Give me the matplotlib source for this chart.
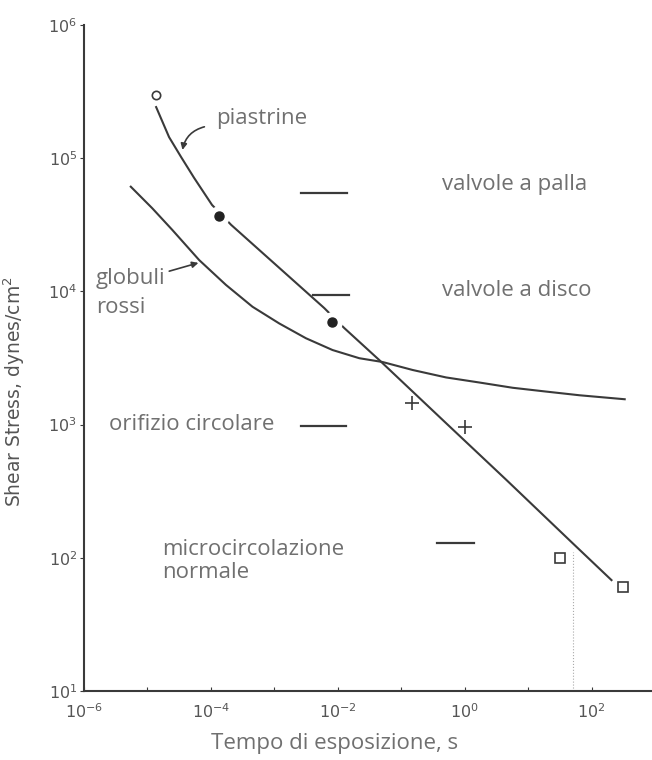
import numpy as np
import matplotlib.pyplot as plt

# Data
plt_x = [1.37e-5, 2.19e-5, 3.39e-5, 5.43e-5, 1.04e-4, 2.08e-4, 6.1e-3, 1.26e-2, 4.5e-2, 0.513, 4.53, 49.8, 205]
plt_y = [2.42e5, 1.44e5, 1.02e5, 7.12e4, 4.46e4, 3.16e4, 7.5e3, 5.31e3, 3.05e3, 1020, 384, 129, 68]

rbc_x = [5.46e-6, 1.19e-5, 2.47e-5, 6.52e-5, 1.72e-4, 4.52e-4, 1.19e-3, 3.14e-3, 8.24e-3,
         2.18e-2, 5.07e-2, 0.151, 0.507, 1.70, 5.69, 19.1, 64.6, 331]
rbc_y = [6.11e4, 4.21e4, 2.89e4, 1.72e4, 1.12e4, 7.67e3, 5.75e3, 4.45e3, 3.63e3,
         3.15e3, 2.95e3, 2.57e3, 2.26e3, 2.07e3, 1.89e3, 1.77e3, 1.66e3, 1.55e3]

open_circle = ([1.38e-5], [3.0e5])
dots = ([1.35e-4, 8.0e-3], [3.7e4, 5.9e3])
plus = ([0.148, 0.99], [1450, 960])
squares = ([32, 310], [100, 60])

# horizontal ranges: (x start, x end, y)
ranges = [(2.6e-3, 1.4e-2, 5.5e4),
          (4.0e-3, 1.5e-2, 9.4e3),
          (2.6e-3, 1.35e-2, 980),
          (0.37, 1.41, 130)]
dotted_x = 51
dotted_top = 110

ink = '#3a3a3a'
grey = '#707070'
lab_font = 'Open Sans'

fig = plt.figure(figsize=(6.52, 7.6), dpi=100)
ax = fig.add_axes([84/652, 69/760, 568/652, 666/760])
ax.set_xscale('log')
ax.set_yscale('log')
ax.set_xlim(1e-6, 10**2.95)
ax.set_ylim(10, 1e6)

ax.plot(plt_x, plt_y, color=ink, lw=1.5, zorder=2)
ax.plot(rbc_x, rbc_y, color=ink, lw=1.5, zorder=2)

# markers (white halo on filled dots leaves a gap in the line)
ax.plot(*open_circle, 'o', ms=6, mfc='white', mec=ink, mew=1.2, zorder=3)
ax.plot(*dots, 'o', ms=14, mfc='white', mec='white', zorder=3)
ax.plot(*dots, 'o', ms=6.5, color='#222222', zorder=4)
ax.plot(*plus, '+', ms=10, mew=1.2, color=ink, zorder=3)
ax.plot(*squares, 's', ms=7, mfc='white', mec=ink, mew=1.2, zorder=3)

for x0, x1, y in ranges:
    ax.plot([x0, x1], [y, y], color=ink, lw=1.6)

ax.plot([dotted_x, dotted_x], [10, dotted_top], color='#aaaaaa', lw=0.8, ls=':')

# labels
kw = dict(color=grey, fontsize=16, family=lab_font, va='center', ha='left')
ax.text(1.2e-4, 2.0e5, 'piastrine', **kw)
ax.text(0.43, 6.3e4, 'valvole a palla', **kw)
ax.text(0.43, 1.02e4, 'valvole a disco', **kw)
ax.text(1.55e-6, 1.26e4, 'globuli', **kw)
ax.text(1.55e-6, 7.6e3, 'rossi', **kw)
ax.text(2.45e-6, 1.0e3, 'orifizio circolare', **kw)
ax.text(1.7e-5, 115, 'microcircolazione', **kw)
ax.text(1.7e-5, 78, 'normale', **kw)

ax.annotate('', xy=(3.5e-5, 1.1e5), xytext=(8.7e-5, 1.74e5),
            arrowprops=dict(arrowstyle='-|>', color=ink, lw=1.2,
                            connectionstyle='arc3,rad=0.35', mutation_scale=9))
ax.annotate('', xy=(7.0e-5, 1.66e4), xytext=(2.0e-5, 1.4e4),
            arrowprops=dict(arrowstyle='-|>', color=ink, lw=1.2, mutation_scale=9))

# axes style
for s in ['top', 'right']:
    ax.spines[s].set_visible(False)
for s in ['left', 'bottom']:
    ax.spines[s].set_color(ink)
    ax.spines[s].set_linewidth(1.5)

ax.set_xticks([10.0**k for k in range(-6, 3)])
ax.set_xticklabels(['10$^{%d}$' % k if k % 2 == 0 else '' for k in range(-6, 3)])
ax.set_yticks([10.0**k for k in range(1, 7)])
ax.set_yticklabels(['10$^{%d}$' % k for k in range(1, 7)])
ax.minorticks_off()
ax.tick_params(axis='x', direction='in', length=3, color=ink, labelsize=11.5, labelcolor='#555555', pad=8)
ax.tick_params(axis='y', direction='out', length=3, color=ink, labelsize=11.5, labelcolor='#555555', pad=2)

ax.set_xlabel('Tempo di esposizione, s', color=grey, fontsize=16, family=lab_font)
ax.xaxis.set_label_coords((335 - 84) / 568, -(733 - 691) / 666)
ax.set_ylabel('Shear Stress, dynes/cm$^2$', color='#555555', fontsize=13.5)
ax.yaxis.set_label_coords(-(84 - 27) / 568, (691 - 392) / 666)

fig.savefig('out.png', dpi=100)
